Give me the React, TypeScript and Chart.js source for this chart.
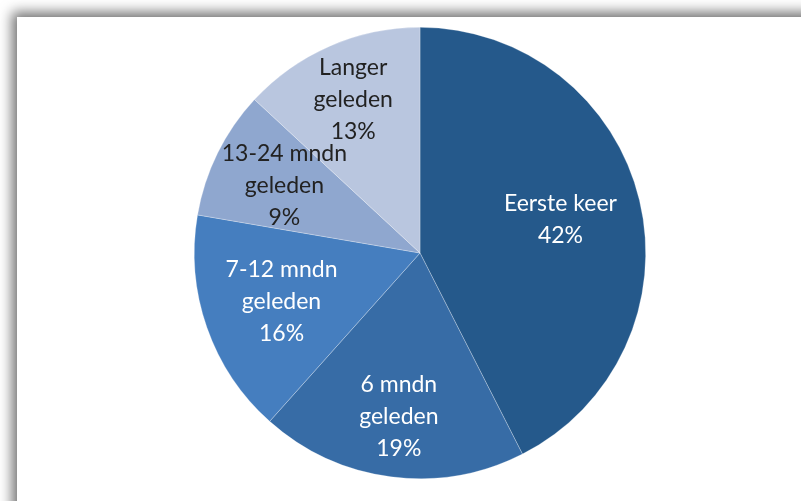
import React, { useEffect, useRef } from "react";
import { Chart, registerables } from "chart.js";

Chart.register(...registerables);

const categories: string[][] = [
  ["Eerste keer"],
  ["6 mndn", "geleden"],
  ["7-12 mndn", "geleden"],
  ["13-24 mndn", "geleden"],
  ["Langer", "geleden"],
];
const values: number[] = [42.5, 19.1, 16.1, 9.2, 13.1];
const shownPercents: string[] = ["42%", "19%", "16%", "9%", "13%"];
const sliceColors: string[] = ["#25598b", "#376ca6", "#457ebf", "#8fa7cf", "#b9c6df"];
const labelColors: string[] = ["#ffffff", "#ffffff", "#ffffff", "#222222", "#222222"];
const labelRadius: number[] = [0.64, 0.73, 0.65, 0.67, 0.74];

const labelPlugin = {
  id: "sliceLabels",
  afterDatasetsDraw(chart: any) {
    const ctx = chart.ctx;
    const meta = chart.getDatasetMeta(0);
    ctx.save();
    ctx.font = "23px Lato, 'Noto Sans', sans-serif";
    ctx.textAlign = "center";
    ctx.textBaseline = "middle";
    meta.data.forEach((arc: any, i: number) => {
      const { x, y, startAngle, endAngle, outerRadius } = arc.getProps(
        ["x", "y", "startAngle", "endAngle", "outerRadius"],
        true
      );
      const mid = (startAngle + endAngle) / 2;
      const r = outerRadius * labelRadius[i];
      const cx = x + Math.cos(mid) * r;
      const cy = y + Math.sin(mid) * r;
      const lines = [...categories[i], shownPercents[i]];
      const lh = 32;
      const top = cy - ((lines.length - 1) * lh) / 2;
      ctx.fillStyle = labelColors[i];
      lines.forEach((t, j) => ctx.fillText(t, cx, top + j * lh));
    });
    ctx.restore();
  },
};

export default function App() {
  const ref = useRef<HTMLCanvasElement | null>(null);
  useEffect(() => {
    if (!ref.current) return;
    const chart = new Chart(ref.current, {
      type: "pie",
      data: {
        labels: categories.map((c) => c.join(" ")),
        datasets: [
          {
            data: values,
            backgroundColor: sliceColors,
            borderColor: "rgba(255,255,255,0.45)",
            borderWidth: 0.6,
          },
        ],
      },
      options: {
        animation: false,
        responsive: false,
        layout: { padding: { top: 27, bottom: 22, left: 39, right: 0 } },
        plugins: {
          legend: { display: false },
          tooltip: { enabled: false },
        },
      },
      plugins: [labelPlugin],
    });
    return () => chart.destroy();
  }, []);

  return (
    <div
      style={{
        position: "fixed",
        left: 0,
        top: 0,
        width: 801,
        height: 501,
        overflow: "hidden",
        background: "#ffffff",
      }}
    >
      <div
        style={{
          position: "absolute",
          left: 17,
          top: 17,
          width: 900,
          height: 600,
          background: "#ffffff",
          boxShadow: "-1px -1px 12px 4px rgba(0,0,0,0.55)",
        }}
      />
      <canvas
        ref={ref}
        width={801}
        height={501}
        style={{ position: "absolute", left: 0, top: 0, width: 801, height: 501 }}
      />
    </div>
  );
}
